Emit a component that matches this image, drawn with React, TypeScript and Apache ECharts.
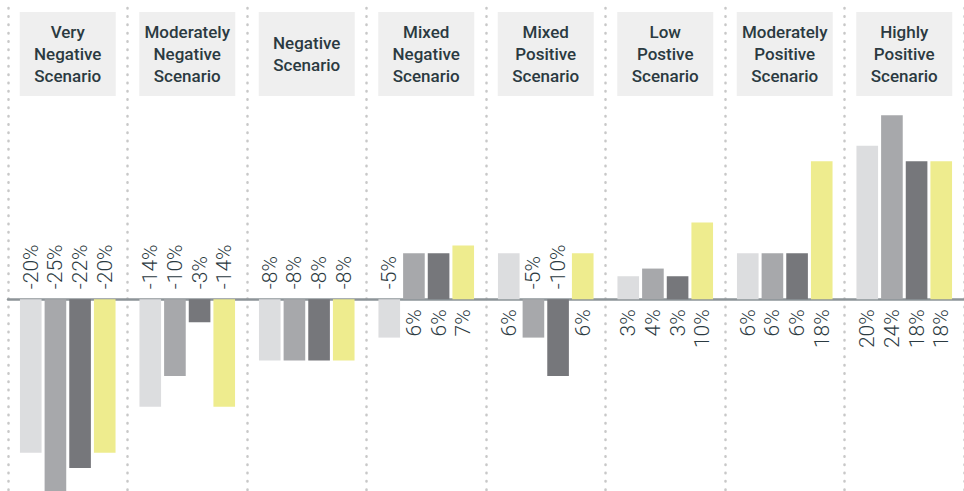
import React, { useEffect, useRef } from "react";
import * as echarts from "echarts";

const scenarios = [
  "Very\nNegative\nScenario",
  "Moderately\nNegative\nScenario",
  "Negative\nScenario",
  "Mixed\nNegative\nScenario",
  "Mixed\nPositive\nScenario",
  "Low\nPostive\nScenario",
  "Moderately\nPositive\nScenario",
  "Highly\nPositive\nScenario",
];

const seriesNames = ["Series 1", "Series 2", "Series 3", "Series 4"];
const series1 = [-20, -14, -8, -5, 6, 3, 6, 20];
const series2 = [-25, -10, -8, 6, -5, 4, 6, 24];
const series3 = [-22, -3, -8, 6, -10, 3, 6, 18];
const series4 = [-20, -14, -8, 7, 6, 10, 18, 18];
const colors = ["#dcdddf", "#a7a8ab", "#76777b", "#eeec8e"];

const textColor = "#2b3a41";

function buildData(values: number[]) {
  return values.map((v) => ({
    value: v,
    label: {
      position: v >= 0 ? "bottom" : "top",
      align: v >= 0 ? "right" : "left",
    },
  }));
}

function headerFormatter(value: string) {
  const lines = value.split("\n");
  const body = lines.map((l) => `{h|${l}}`);
  if (lines.length === 2) return [`{s| }`, ...body, `{s| }`].join("\n");
  return body.join("\n");
}

export default function App() {
  const ref = useRef<HTMLDivElement>(null);
  useEffect(() => {
    if (!ref.current) return;
    const chart = echarts.init(ref.current, undefined, { renderer: "svg" });
    const allSeries = [series1, series2, series3, series4];
    chart.setOption({
      animation: false,
      grid: [
        { left: 8, width: 958, top: 107.5, bottom: 0 },
        { left: 8, width: 958, top: 8, bottom: 0 },
      ],
      xAxis: [
        {
          type: "category",
          gridIndex: 0,
          data: scenarios,
          position: "bottom",
          axisLine: { show: true, onZero: true, lineStyle: { color: "#8d9498", width: 2.5 } },
          axisTick: { show: false },
          axisLabel: { show: false },
          splitLine: { show: false },
        },
        {
          type: "category",
          gridIndex: 0,
          data: scenarios,
          position: "top",
          axisLine: { show: false, onZero: false },
          axisTick: { show: false },
          axisLabel: {
            show: true,
            interval: 0,
            margin: 11.5,
            align: "center",
            width: 96,
            padding: [9, 0, 9, 0],
            backgroundColor: "#efefef",
            formatter: headerFormatter,
            rich: {
              h: {
                color: textColor,
                fontFamily: "Roboto",
                fontWeight: 500,
                fontSize: 17,
                lineHeight: 22,
                align: "center",
              },
              s: { fontSize: 8, lineHeight: 11, align: "center" },
            },
          },
          splitLine: { show: false },
        },
        {
          type: "category",
          gridIndex: 1,
          data: scenarios,
          axisLine: { show: false },
          axisTick: { show: false },
          axisLabel: { show: false },
          splitLine: {
            show: true,
            interval: 0,
            lineStyle: { color: "#c8c8c8", width: 2.5, type: [0.5, 7.8], cap: "round" },
          },
        },
      ],
      yAxis: [
        { type: "value", gridIndex: 0, min: -25, max: 25, show: false },
        { type: "value", gridIndex: 1, min: 0, max: 1, show: false },
      ],
      series: allSeries.map((vals, i) => ({
        name: seriesNames[i],
        type: "bar",
        xAxisIndex: 0,
        yAxisIndex: 0,
        barCategoryGap: "20%",
        barGap: "14%",
        itemStyle: { color: colors[i] },
        label: {
          show: true,
          rotate: 90,
          distance: 10,
          verticalAlign: "middle",
          color: textColor,
          fontFamily: "Roboto",
          fontWeight: 300,
          fontSize: 21,
          formatter: (p: any) => `${p.value}%`,
        },
        data: buildData(vals),
      })),
    });
    return () => chart.dispose();
  }, []);
  return (
    <div
      ref={ref}
      style={{ position: "absolute", left: 0, top: 0, width: 964, height: 491 }}
    />
  );
}
